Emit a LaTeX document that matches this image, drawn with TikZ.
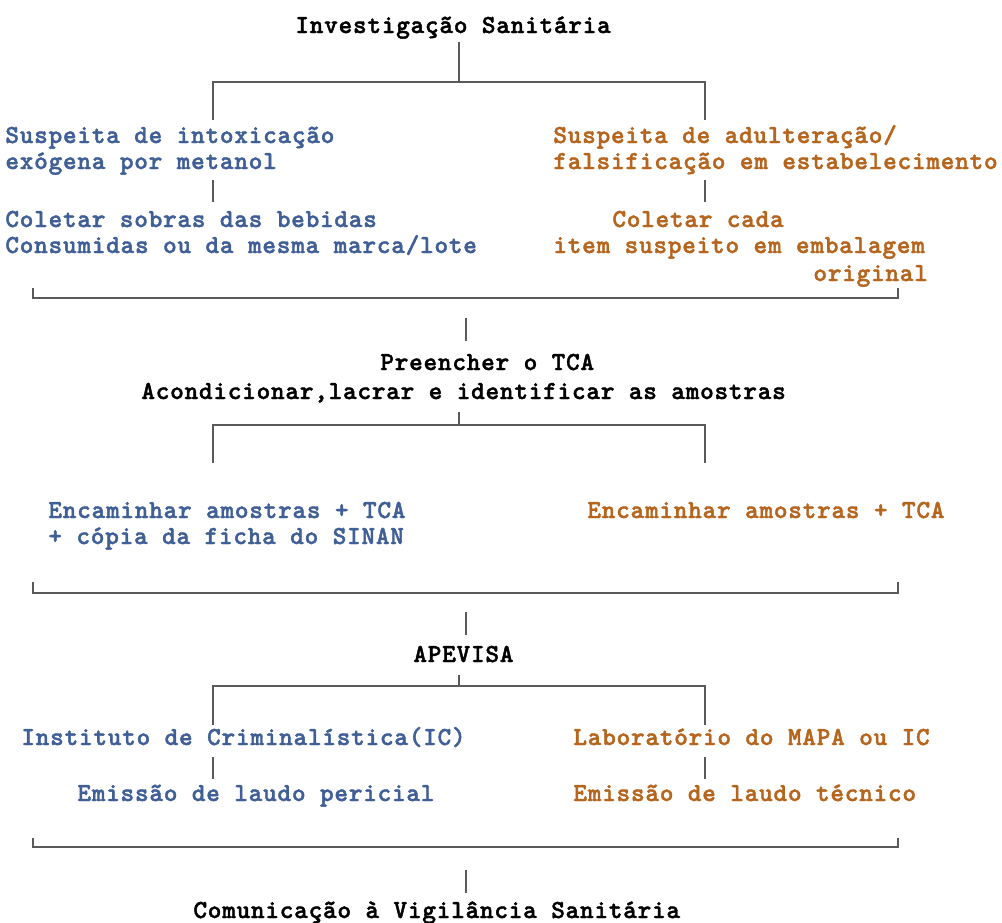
\documentclass[tikz,border=0pt]{standalone}
\usepackage{fontspec}
\newfontfamily\typer{lmmonolt10-bold.otf}[LetterSpace=2.9,FakeBold=1.6]
\usetikzlibrary{positioning}
\definecolor{steel}{HTML}{3f5f96}
\definecolor{rust}{HTML}{b5651d}
\definecolor{wire}{HTML}{5a5a5a}

\begin{document}
\begin{tikzpicture}[x=0.5pt,y=-0.5pt,
  txt/.style={font=\typer\fontsize{13}{13}\selectfont,inner sep=0pt,anchor=base west,align=left},
  link/.style={wire,line width=1.1pt}]
  \useasboundingbox (0,0) rectangle (1002,922);
  % texts (base = last line)
  \node[txt] (title) at (295,33) {Investigação Sanitária};
  \node[txt,steel] (suspA) at (5,169) {Suspeita de intoxicação\\exógena por metanol};
  \node[txt,rust] (suspB) at (553,169) {Suspeita de adulteração/\\falsificação em estabelecimento};
  \node[txt,steel] (coletaA) at (5,253) {Coletar sobras das bebidas\\Consumidas ou da mesma marca/lote};
  \node[txt,rust] (coletaB) at (553,281) {\hspace*{29.5pt}Coletar cada\\item suspeito em embalagem\\[1pt]\hspace*{130pt}original};
  \node[txt] (tca) at (141,399) {\hspace*{119.5pt}Preencher o TCA\\[1.5pt]Acondicionar,lacrar e identificar as amostras};
  \node[txt,steel] (envioA) at (48,544) {Encaminhar amostras + TCA\\+ cópia da ficha do SINAN};
  \node[txt,rust] (envioB) at (587,518) {Encaminhar amostras + TCA};
  \node[txt] (apevisa) at (413,662) {APEVISA};
  \node[txt,steel] (labA) at (21,745) {Instituto de Criminalística(IC)};
  \node[txt,rust] (labB) at (573,745) {Laboratório do MAPA ou IC};
  \node[txt,steel] (laudoA) at (77,801) {Emissão de laudo pericial};
  \node[txt,rust] (laudoB) at (573,801) {Emissão de laudo técnico};
  \node[txt] (aviso) at (193,918) {Comunicação à Vigilância Sanitária};
  % forks
  \coordinate (fork1) at (459,82);
  \coordinate (fork1l) at (213,82);
  \coordinate (fork1r) at (705,82);
  \coordinate (fork2) at (459,425);
  \coordinate (fork2l) at (213,425);
  \coordinate (fork2r) at (705,425);
  \coordinate (fork3) at (459,686);
  \coordinate (fork3l) at (213,686);
  \coordinate (fork3r) at (705,686);
  \draw[link] (fork1) -- ++(0,-40);
  \draw[link] (fork1l) ++(0,38) -- (fork1l) -- (fork1r) -- ++(0,38);
  \draw[link] (fork2) -- ++(0,-13);
  \draw[link] (fork2l) ++(0,38) -- (fork2l) -- (fork2r) -- ++(0,38);
  \draw[link] (fork3) -- ++(0,-11);
  \draw[link] (fork3l) ++(0,39) -- (fork3l) -- (fork3r) -- ++(0,39);
  % steps inside the columns
  \coordinate (stepA) at (213,180);
  \coordinate (stepB) at (705,180);
  \coordinate (stepC) at (213,757);
  \coordinate (stepD) at (705,757);
  \foreach \s in {stepA,stepB,stepC,stepD}
    \draw[link] (\s) -- ++(0,22);
  % joins
  \coordinate (join1l) at (33,298);
  \coordinate (join1r) at (898,298);
  \coordinate (join2l) at (33,593);
  \coordinate (join2r) at (898,593);
  \coordinate (join3l) at (33,847);
  \coordinate (join3r) at (898,847);
  \draw[link] (join1l) ++(0,-10) -- (join1l) -- (join1r) -- ++(0,-10);
  \draw[link] (join2l) ++(0,-11) -- (join2l) -- (join2r) -- ++(0,-11);
  \draw[link] (join3l) ++(0,-9) -- (join3l) -- (join3r) -- ++(0,-9);
  \coordinate (down1) at (466,318);
  \coordinate (down2) at (466,612);
  \coordinate (down3) at (466,870);
  \foreach \d in {down1,down2,down3}
    \draw[link] (\d) -- ++(0,23);
\end{tikzpicture}
\end{document}
